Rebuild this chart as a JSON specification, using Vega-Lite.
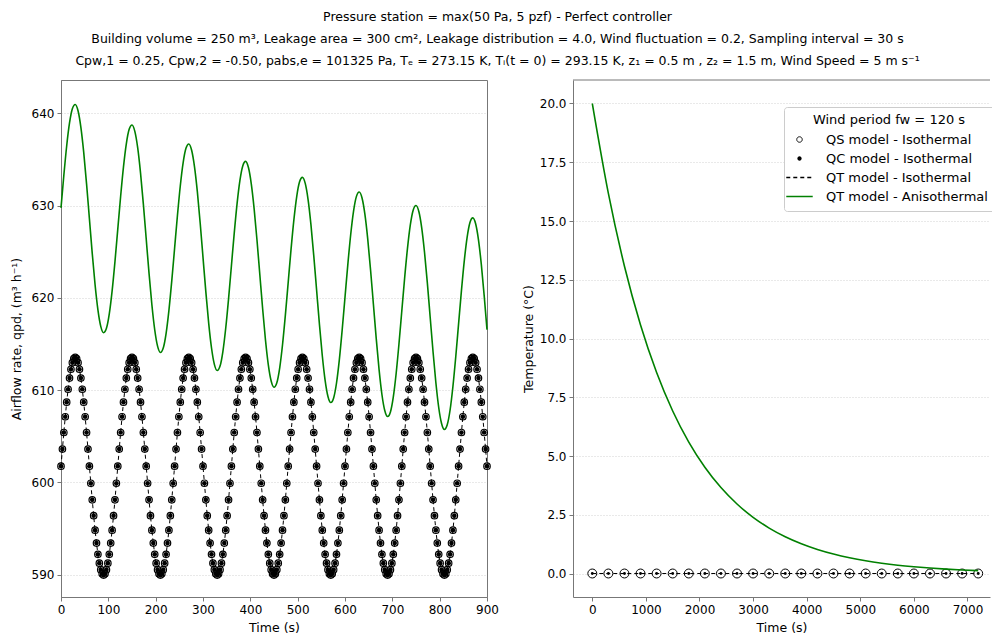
{
  "$schema": "https://vega.github.io/schema/vega-lite/v6.json",
  "padding": {"left": 9, "top": 11, "right": 0, "bottom": 0},
  "title": {
    "text": [
      "Pressure station = max(50 Pa, 5 pzf) - Perfect controller",
      "Building volume = 250 m³, Leakage area = 300 cm², Leakage distribution = 4.0, Wind fluctuation = 0.2, Sampling interval = 30 s",
      "Cpw,1 = 0.25, Cpw,2 = -0.50, pabs,e = 101325 Pa, Tₑ = 273.15 K, Tᵢ(t = 0) = 293.15 K, z₁ = 0.5 m , z₂ = 1.5 m, Wind Speed = 5 m s⁻¹"
    ],
    "anchor": "middle",
    "dx": -5,
    "font": "DejaVu Sans",
    "fontSize": 12.5,
    "fontWeight": "normal",
    "color": "#000000",
    "lineHeight": 22,
    "offset": 12
  },
  "bounds": "flush",
  "spacing": 86,
  "resolve": {"scale": {"x": "independent", "y": "independent", "color": "independent"}},
  "datasets": {
    "flow": [
      {"t":0,"q":601.75},{"t":3,"q":603.6},{"t":6,"q":605.4},{"t":9,"q":607.11},{"t":12,"q":608.69},{"t":15,"q":610.09},{"t":18,"q":611.3},{"t":21,"q":612.26},{"t":24,"q":612.97},{"t":27,"q":613.41},{"t":30,"q":613.55},{"t":33,"q":613.41},{"t":36,"q":612.97},{"t":39,"q":612.26},{"t":42,"q":611.3},{"t":45,"q":610.09},{"t":48,"q":608.69},{"t":51,"q":607.11},{"t":54,"q":605.4},{"t":57,"q":603.6},{"t":60,"q":601.75},{"t":63,"q":599.9},{"t":66,"q":598.1},{"t":69,"q":596.39},{"t":72,"q":594.81},{"t":75,"q":593.41},{"t":78,"q":592.2},{"t":81,"q":591.24},{"t":84,"q":590.53},{"t":87,"q":590.09},{"t":90,"q":589.95},{"t":93,"q":590.09},{"t":96,"q":590.53},{"t":99,"q":591.24},{"t":102,"q":592.2},{"t":105,"q":593.41},{"t":108,"q":594.81},{"t":111,"q":596.39},{"t":114,"q":598.1},{"t":117,"q":599.9},
      {"t":120,"q":601.75},{"t":123,"q":603.6},{"t":126,"q":605.4},{"t":129,"q":607.11},{"t":132,"q":608.69},{"t":135,"q":610.09},{"t":138,"q":611.3},{"t":141,"q":612.26},{"t":144,"q":612.97},{"t":147,"q":613.41},{"t":150,"q":613.55},{"t":153,"q":613.41},{"t":156,"q":612.97},{"t":159,"q":612.26},{"t":162,"q":611.3},{"t":165,"q":610.09},{"t":168,"q":608.69},{"t":171,"q":607.11},{"t":174,"q":605.4},{"t":177,"q":603.6},{"t":180,"q":601.75},{"t":183,"q":599.9},{"t":186,"q":598.1},{"t":189,"q":596.39},{"t":192,"q":594.81},{"t":195,"q":593.41},{"t":198,"q":592.2},{"t":201,"q":591.24},{"t":204,"q":590.53},{"t":207,"q":590.09},{"t":210,"q":589.95},{"t":213,"q":590.09},{"t":216,"q":590.53},{"t":219,"q":591.24},{"t":222,"q":592.2},{"t":225,"q":593.41},{"t":228,"q":594.81},{"t":231,"q":596.39},{"t":234,"q":598.1},{"t":237,"q":599.9},
      {"t":240,"q":601.75},{"t":243,"q":603.6},{"t":246,"q":605.4},{"t":249,"q":607.11},{"t":252,"q":608.69},{"t":255,"q":610.09},{"t":258,"q":611.3},{"t":261,"q":612.26},{"t":264,"q":612.97},{"t":267,"q":613.41},{"t":270,"q":613.55},{"t":273,"q":613.41},{"t":276,"q":612.97},{"t":279,"q":612.26},{"t":282,"q":611.3},{"t":285,"q":610.09},{"t":288,"q":608.69},{"t":291,"q":607.11},{"t":294,"q":605.4},{"t":297,"q":603.6},{"t":300,"q":601.75},{"t":303,"q":599.9},{"t":306,"q":598.1},{"t":309,"q":596.39},{"t":312,"q":594.81},{"t":315,"q":593.41},{"t":318,"q":592.2},{"t":321,"q":591.24},{"t":324,"q":590.53},{"t":327,"q":590.09},{"t":330,"q":589.95},{"t":333,"q":590.09},{"t":336,"q":590.53},{"t":339,"q":591.24},{"t":342,"q":592.2},{"t":345,"q":593.41},{"t":348,"q":594.81},{"t":351,"q":596.39},{"t":354,"q":598.1},{"t":357,"q":599.9},
      {"t":360,"q":601.75},{"t":363,"q":603.6},{"t":366,"q":605.4},{"t":369,"q":607.11},{"t":372,"q":608.69},{"t":375,"q":610.09},{"t":378,"q":611.3},{"t":381,"q":612.26},{"t":384,"q":612.97},{"t":387,"q":613.41},{"t":390,"q":613.55},{"t":393,"q":613.41},{"t":396,"q":612.97},{"t":399,"q":612.26},{"t":402,"q":611.3},{"t":405,"q":610.09},{"t":408,"q":608.69},{"t":411,"q":607.11},{"t":414,"q":605.4},{"t":417,"q":603.6},{"t":420,"q":601.75},{"t":423,"q":599.9},{"t":426,"q":598.1},{"t":429,"q":596.39},{"t":432,"q":594.81},{"t":435,"q":593.41},{"t":438,"q":592.2},{"t":441,"q":591.24},{"t":444,"q":590.53},{"t":447,"q":590.09},{"t":450,"q":589.95},{"t":453,"q":590.09},{"t":456,"q":590.53},{"t":459,"q":591.24},{"t":462,"q":592.2},{"t":465,"q":593.41},{"t":468,"q":594.81},{"t":471,"q":596.39},{"t":474,"q":598.1},{"t":477,"q":599.9},
      {"t":480,"q":601.75},{"t":483,"q":603.6},{"t":486,"q":605.4},{"t":489,"q":607.11},{"t":492,"q":608.69},{"t":495,"q":610.09},{"t":498,"q":611.3},{"t":501,"q":612.26},{"t":504,"q":612.97},{"t":507,"q":613.41},{"t":510,"q":613.55},{"t":513,"q":613.41},{"t":516,"q":612.97},{"t":519,"q":612.26},{"t":522,"q":611.3},{"t":525,"q":610.09},{"t":528,"q":608.69},{"t":531,"q":607.11},{"t":534,"q":605.4},{"t":537,"q":603.6},{"t":540,"q":601.75},{"t":543,"q":599.9},{"t":546,"q":598.1},{"t":549,"q":596.39},{"t":552,"q":594.81},{"t":555,"q":593.41},{"t":558,"q":592.2},{"t":561,"q":591.24},{"t":564,"q":590.53},{"t":567,"q":590.09},{"t":570,"q":589.95},{"t":573,"q":590.09},{"t":576,"q":590.53},{"t":579,"q":591.24},{"t":582,"q":592.2},{"t":585,"q":593.41},{"t":588,"q":594.81},{"t":591,"q":596.39},{"t":594,"q":598.1},{"t":597,"q":599.9},
      {"t":600,"q":601.75},{"t":603,"q":603.6},{"t":606,"q":605.4},{"t":609,"q":607.11},{"t":612,"q":608.69},{"t":615,"q":610.09},{"t":618,"q":611.3},{"t":621,"q":612.26},{"t":624,"q":612.97},{"t":627,"q":613.41},{"t":630,"q":613.55},{"t":633,"q":613.41},{"t":636,"q":612.97},{"t":639,"q":612.26},{"t":642,"q":611.3},{"t":645,"q":610.09},{"t":648,"q":608.69},{"t":651,"q":607.11},{"t":654,"q":605.4},{"t":657,"q":603.6},{"t":660,"q":601.75},{"t":663,"q":599.9},{"t":666,"q":598.1},{"t":669,"q":596.39},{"t":672,"q":594.81},{"t":675,"q":593.41},{"t":678,"q":592.2},{"t":681,"q":591.24},{"t":684,"q":590.53},{"t":687,"q":590.09},{"t":690,"q":589.95},{"t":693,"q":590.09},{"t":696,"q":590.53},{"t":699,"q":591.24},{"t":702,"q":592.2},{"t":705,"q":593.41},{"t":708,"q":594.81},{"t":711,"q":596.39},{"t":714,"q":598.1},{"t":717,"q":599.9},
      {"t":720,"q":601.75},{"t":723,"q":603.6},{"t":726,"q":605.4},{"t":729,"q":607.11},{"t":732,"q":608.69},{"t":735,"q":610.09},{"t":738,"q":611.3},{"t":741,"q":612.26},{"t":744,"q":612.97},{"t":747,"q":613.41},{"t":750,"q":613.55},{"t":753,"q":613.41},{"t":756,"q":612.97},{"t":759,"q":612.26},{"t":762,"q":611.3},{"t":765,"q":610.09},{"t":768,"q":608.69},{"t":771,"q":607.11},{"t":774,"q":605.4},{"t":777,"q":603.6},{"t":780,"q":601.75},{"t":783,"q":599.9},{"t":786,"q":598.1},{"t":789,"q":596.39},{"t":792,"q":594.81},{"t":795,"q":593.41},{"t":798,"q":592.2},{"t":801,"q":591.24},{"t":804,"q":590.53},{"t":807,"q":590.09},{"t":810,"q":589.95},{"t":813,"q":590.09},{"t":816,"q":590.53},{"t":819,"q":591.24},{"t":822,"q":592.2},{"t":825,"q":593.41},{"t":828,"q":594.81},{"t":831,"q":596.39},{"t":834,"q":598.1},{"t":837,"q":599.9},
      {"t":840,"q":601.75},{"t":843,"q":603.6},{"t":846,"q":605.4},{"t":849,"q":607.11},{"t":852,"q":608.69},{"t":855,"q":610.09},{"t":858,"q":611.3},{"t":861,"q":612.26},{"t":864,"q":612.97},{"t":867,"q":613.41},{"t":870,"q":613.55},{"t":873,"q":613.41},{"t":876,"q":612.97},{"t":879,"q":612.26},{"t":882,"q":611.3},{"t":885,"q":610.09},{"t":888,"q":608.69},{"t":891,"q":607.11},{"t":894,"q":605.4},{"t":897,"q":603.6},{"t":900,"q":601.75}
    ],
    "green": [
      {"t":0,"q":629.75},{"t":6,"q":633.28},{"t":12,"q":636.46},{"t":18,"q":638.95},{"t":24,"q":640.5},
      {"t":30,"q":640.96},{"t":36,"q":640.27},{"t":42,"q":638.48},{"t":48,"q":635.76},{"t":54,"q":632.35},
      {"t":60,"q":628.59},{"t":66,"q":624.82},{"t":72,"q":621.42},{"t":78,"q":618.7},{"t":84,"q":616.91},
      {"t":90,"q":616.22},{"t":96,"q":616.69},{"t":102,"q":618.25},{"t":108,"q":620.75},{"t":114,"q":623.93},
      {"t":120,"q":627.47},{"t":126,"q":631.01},{"t":132,"q":634.19},{"t":138,"q":636.69},{"t":144,"q":638.26},
      {"t":150,"q":638.73},{"t":156,"q":638.04},{"t":162,"q":636.27},{"t":168,"q":633.55},{"t":174,"q":630.16},
      {"t":180,"q":626.4},{"t":186,"q":622.65},{"t":192,"q":619.25},{"t":198,"q":616.54},{"t":204,"q":614.76},
      {"t":210,"q":614.08},{"t":216,"q":614.56},{"t":222,"q":616.13},{"t":228,"q":618.64},{"t":234,"q":621.83},
      {"t":240,"q":625.37},{"t":246,"q":628.92},{"t":252,"q":632.12},{"t":258,"q":634.63},{"t":264,"q":636.2},
      {"t":270,"q":636.68},{"t":276,"q":636.0},{"t":282,"q":634.23},{"t":288,"q":631.53},{"t":294,"q":628.14},
      {"t":300,"q":624.39},{"t":306,"q":620.65},{"t":312,"q":617.26},{"t":318,"q":614.56},{"t":324,"q":612.79},
      {"t":330,"q":612.12},{"t":336,"q":612.6},{"t":342,"q":614.18},{"t":348,"q":616.7},{"t":354,"q":619.89},
      {"t":360,"q":623.45},{"t":366,"q":627.01},{"t":372,"q":630.21},{"t":378,"q":632.73},{"t":384,"q":634.3},
      {"t":390,"q":634.79},{"t":396,"q":634.12},{"t":402,"q":632.36},{"t":408,"q":629.67},{"t":414,"q":626.29},
      {"t":420,"q":622.55},{"t":426,"q":618.81},{"t":432,"q":615.43},{"t":438,"q":612.73},{"t":444,"q":610.98},
      {"t":450,"q":610.31},{"t":456,"q":610.8},{"t":462,"q":612.39},{"t":468,"q":614.91},{"t":474,"q":618.12},
      {"t":480,"q":621.68},{"t":486,"q":625.25},{"t":492,"q":628.45},{"t":498,"q":630.98},{"t":504,"q":632.57},
      {"t":510,"q":633.06},{"t":516,"q":632.4},{"t":522,"q":630.65},{"t":528,"q":627.96},{"t":534,"q":624.58},
      {"t":540,"q":620.85},{"t":546,"q":617.12},{"t":552,"q":613.75},{"t":558,"q":611.06},{"t":564,"q":609.31},
      {"t":570,"q":608.65},{"t":576,"q":609.15},{"t":582,"q":610.74},{"t":588,"q":613.27},{"t":594,"q":616.49},
      {"t":600,"q":620.06},{"t":606,"q":623.63},{"t":612,"q":626.84},{"t":618,"q":629.38},{"t":624,"q":630.97},
      {"t":630,"q":631.47},{"t":636,"q":630.82},{"t":642,"q":629.07},{"t":648,"q":626.39},{"t":654,"q":623.02},
      {"t":660,"q":619.3},{"t":666,"q":615.57},{"t":672,"q":612.21},{"t":678,"q":609.52},{"t":684,"q":607.78},
      {"t":690,"q":607.13},{"t":696,"q":607.63},{"t":702,"q":609.23},{"t":708,"q":611.77},{"t":714,"q":614.99},
      {"t":720,"q":618.57},{"t":726,"q":622.15},{"t":732,"q":625.36},{"t":738,"q":627.9},{"t":744,"q":629.5},
      {"t":750,"q":630.01},{"t":756,"q":629.36},{"t":762,"q":627.62},{"t":768,"q":624.94},{"t":774,"q":621.59},
      {"t":780,"q":617.87},{"t":786,"q":614.15},{"t":792,"q":610.79},{"t":798,"q":608.11},{"t":804,"q":606.38},
      {"t":810,"q":605.73},{"t":816,"q":606.24},{"t":822,"q":607.84},{"t":828,"q":610.39},{"t":834,"q":613.61},
      {"t":840,"q":617.2},{"t":846,"q":620.78},{"t":852,"q":624.01},{"t":858,"q":626.55},{"t":864,"q":628.16},
      {"t":870,"q":628.67},{"t":876,"q":628.03},{"t":882,"q":626.29},{"t":888,"q":623.62},{"t":894,"q":620.27},
      {"t":900,"q":616.55}
    ],
    "temp": [
      {"t":0,"iso":0,"temp":20.0},{"t":300,"iso":0,"temp":16.172},{"t":600,"iso":0,"temp":13.077},{"t":900,"iso":0,"temp":10.574},{"t":1200,"iso":0,"temp":8.551},
      {"t":1500,"iso":0,"temp":6.914},{"t":1800,"iso":0,"temp":5.591},{"t":2100,"iso":0,"temp":4.521},{"t":2400,"iso":0,"temp":3.656},{"t":2700,"iso":0,"temp":2.956},
      {"t":3000,"iso":0,"temp":2.39},{"t":3300,"iso":0,"temp":1.933},{"t":3600,"iso":0,"temp":1.563},{"t":3900,"iso":0,"temp":1.264},{"t":4200,"iso":0,"temp":1.022},
      {"t":4500,"iso":0,"temp":0.827},{"t":4800,"iso":0,"temp":0.668},{"t":5100,"iso":0,"temp":0.54},{"t":5400,"iso":0,"temp":0.437},{"t":5700,"iso":0,"temp":0.353},
      {"t":6000,"iso":0,"temp":0.286},{"t":6300,"iso":0,"temp":0.231},{"t":6600,"iso":0,"temp":0.187},{"t":6900,"iso":0,"temp":0.151},{"t":7200,"iso":0,"temp":0.122}
    ]
  },
  "hconcat": [
    {
      "width": 426,
      "height": 517,
      "encoding": {
        "x": {"field": "t", "type": "quantitative", "scale": {"domain": [0, 900], "nice": false, "zero": false},
              "axis": {"title": "Time (s)", "values": [0,100,200,300,400,500,600,700,800,900], "format": "d", "grid": false}},
        "y": {"field": "q", "type": "quantitative", "scale": {"domain": [587.57, 643.61], "nice": false, "zero": false},
              "axis": {"title": "Airflow rate, qpd, (m³ h⁻¹)", "values": [590,600,610,620,630,640], "titlePadding": 8}}
      },
      "layer": [
        {"data": {"name": "flow"}, "mark": {"type": "point", "shape": "circle", "filled": false, "size": 42, "strokeWidth": 1.2, "color": "#000000", "opacity": 1}, "encoding": {}},
        {"data": {"name": "flow"}, "mark": {"type": "point", "shape": "circle", "filled": true, "size": 22, "color": "#000000", "opacity": 1}, "encoding": {}},
        {"data": {"name": "flow"}, "mark": {"type": "line", "color": "#000000", "strokeWidth": 1, "strokeDash": [4, 3]}, "encoding": {}},
        {"data": {"name": "green"}, "mark": {"type": "line", "color": "#008000", "strokeWidth": 1.6, "interpolate": "monotone"}, "encoding": {}}
      ]
    },
    {
      "width": 417,
      "height": 517,
      "view": {"stroke": null},
      "layer": [
        {
          "data": {"values": [{}]},
          "mark": {"type": "rule", "color": "#777777", "strokeWidth": 1},
          "encoding": {"y": {"datum": 21, "type": "quantitative", "scale": {"domain": [-1, 21], "nice": false, "zero": false},
                             "axis": {"title": "Temperature (°C)", "values": [0,2.5,5,7.5,10,12.5,15,17.5,20], "format": ".1f", "titlePadding": 4}}}
        },
        {
          "data": {"name": "temp"},
          "mark": {"type": "point", "shape": "circle", "filled": false, "size": 80, "strokeWidth": 1, "opacity": 1},
          "encoding": {
            "x": {"field": "t", "type": "quantitative", "scale": {"domain": [-360, 7420], "nice": false, "zero": false},
                  "axis": {"title": "Time (s)", "values": [0,1000,2000,3000,4000,5000,6000,7000], "format": "d", "grid": false}},
            "y": {"field": "iso", "type": "quantitative", "axis": {"title": "Temperature (°C)", "values": [0,2.5,5,7.5,10,12.5,15,17.5,20], "format": ".1f", "titlePadding": 4}},
            "color": {
              "datum": "QS model - Isothermal", "type": "nominal",
              "scale": {"domain": ["QS model - Isothermal", "QC model - Isothermal", "QT model - Isothermal", "QT model - Anisothermal"],
                        "range": ["#000000", "#000000", "#000000", "#008000"]},
              "legend": {
                "title": "Wind period fw = 120 s", "orient": "none", "legendX": 211, "legendY": 27, "titleAnchor": "middle",
                "titleFont": "DejaVu Sans", "titleFontSize": 13, "titleFontWeight": "normal", "titleColor": "#000000", "titlePadding": 6,
                "labelFont": "DejaVu Sans", "labelFontSize": 13, "labelColor": "#000000", "labelOffset": 20, "labelLimit": 0, "symbolOffset": 2,
                "symbolSize": 700, "rowPadding": 5, "padding": 7, "strokeColor": "#cccccc", "fillColor": "#ffffff", "cornerRadius": 3,
                "encode": {"symbols": {"update": {
                  "shape": {"signal": "datum.value == 'QT model - Isothermal' || datum.value == 'QT model - Anisothermal' ? 'stroke' : 'circle'"},
                  "size": {"signal": "datum.value == 'QS model - Isothermal' ? 30 : datum.value == 'QC model - Isothermal' ? 8 : 700"},
                  "fill": {"signal": "datum.value == 'QC model - Isothermal' ? '#000000' : 'transparent'"},
                  "fillOpacity": {"signal": "datum.value == 'QC model - Isothermal' ? 1 : 0"},
                  "stroke": {"signal": "datum.value == 'QT model - Anisothermal' ? '#008000' : '#000000'"},
                  "strokeDash": {"signal": "datum.value == 'QT model - Isothermal' ? [4, 3] : [1, 0]"},
                  "strokeWidth": {"signal": "datum.value == 'QS model - Isothermal' ? 1 : 1.5"},
                  "opacity": {"value": 1}
                }}}
              }
            }
          }
        },
        {
          "data": {"name": "temp"},
          "mark": {"type": "point", "shape": "circle", "filled": true, "size": 8, "opacity": 1},
          "encoding": {
            "x": {"field": "t", "type": "quantitative"},
            "y": {"field": "iso", "type": "quantitative"},
            "color": {"datum": "QC model - Isothermal", "type": "nominal",
              "legend": {
                "title": "Wind period fw = 120 s", "orient": "none", "legendX": 211, "legendY": 27, "titleAnchor": "middle",
                "titleFont": "DejaVu Sans", "titleFontSize": 13, "titleFontWeight": "normal", "titleColor": "#000000", "titlePadding": 6,
                "labelFont": "DejaVu Sans", "labelFontSize": 13, "labelColor": "#000000", "labelOffset": 20, "labelLimit": 0, "symbolOffset": 2,
                "symbolSize": 700, "rowPadding": 5, "padding": 7, "strokeColor": "#cccccc", "fillColor": "#ffffff", "cornerRadius": 3,
                "encode": {"symbols": {"update": {
                  "shape": {"signal": "datum.value == 'QT model - Isothermal' || datum.value == 'QT model - Anisothermal' ? 'stroke' : 'circle'"},
                  "size": {"signal": "datum.value == 'QS model - Isothermal' ? 30 : datum.value == 'QC model - Isothermal' ? 8 : 700"},
                  "fill": {"signal": "datum.value == 'QC model - Isothermal' ? '#000000' : 'transparent'"},
                  "fillOpacity": {"signal": "datum.value == 'QC model - Isothermal' ? 1 : 0"},
                  "stroke": {"signal": "datum.value == 'QT model - Anisothermal' ? '#008000' : '#000000'"},
                  "strokeDash": {"signal": "datum.value == 'QT model - Isothermal' ? [4, 3] : [1, 0]"},
                  "strokeWidth": {"signal": "datum.value == 'QS model - Isothermal' ? 1 : 1.5"},
                  "opacity": {"value": 1}
                }}}
              }}
          }
        },
        {
          "data": {"name": "temp"},
          "mark": {"type": "line", "strokeWidth": 1, "strokeDash": [4, 3]},
          "encoding": {
            "x": {"field": "t", "type": "quantitative"},
            "y": {"field": "iso", "type": "quantitative"},
            "color": {"datum": "QT model - Isothermal", "type": "nominal",
              "legend": {
                "title": "Wind period fw = 120 s", "orient": "none", "legendX": 211, "legendY": 27, "titleAnchor": "middle",
                "titleFont": "DejaVu Sans", "titleFontSize": 13, "titleFontWeight": "normal", "titleColor": "#000000", "titlePadding": 6,
                "labelFont": "DejaVu Sans", "labelFontSize": 13, "labelColor": "#000000", "labelOffset": 20, "labelLimit": 0, "symbolOffset": 2,
                "symbolSize": 700, "rowPadding": 5, "padding": 7, "strokeColor": "#cccccc", "fillColor": "#ffffff", "cornerRadius": 3,
                "encode": {"symbols": {"update": {
                  "shape": {"signal": "datum.value == 'QT model - Isothermal' || datum.value == 'QT model - Anisothermal' ? 'stroke' : 'circle'"},
                  "size": {"signal": "datum.value == 'QS model - Isothermal' ? 30 : datum.value == 'QC model - Isothermal' ? 8 : 700"},
                  "fill": {"signal": "datum.value == 'QC model - Isothermal' ? '#000000' : 'transparent'"},
                  "fillOpacity": {"signal": "datum.value == 'QC model - Isothermal' ? 1 : 0"},
                  "stroke": {"signal": "datum.value == 'QT model - Anisothermal' ? '#008000' : '#000000'"},
                  "strokeDash": {"signal": "datum.value == 'QT model - Isothermal' ? [4, 3] : [1, 0]"},
                  "strokeWidth": {"signal": "datum.value == 'QS model - Isothermal' ? 1 : 1.5"},
                  "opacity": {"value": 1}
                }}}
              }}
          }
        },
        {
          "data": {"name": "temp"},
          "mark": {"type": "line", "strokeWidth": 1.6, "interpolate": "monotone"},
          "encoding": {
            "x": {"field": "t", "type": "quantitative"},
            "y": {"field": "temp", "type": "quantitative"},
            "color": {"datum": "QT model - Anisothermal", "type": "nominal",
              "legend": {
                "title": "Wind period fw = 120 s", "orient": "none", "legendX": 211, "legendY": 27, "titleAnchor": "middle",
                "titleFont": "DejaVu Sans", "titleFontSize": 13, "titleFontWeight": "normal", "titleColor": "#000000", "titlePadding": 6,
                "labelFont": "DejaVu Sans", "labelFontSize": 13, "labelColor": "#000000", "labelOffset": 20, "labelLimit": 0, "symbolOffset": 2,
                "symbolSize": 700, "rowPadding": 5, "padding": 7, "strokeColor": "#cccccc", "fillColor": "#ffffff", "cornerRadius": 3,
                "encode": {"symbols": {"update": {
                  "shape": {"signal": "datum.value == 'QT model - Isothermal' || datum.value == 'QT model - Anisothermal' ? 'stroke' : 'circle'"},
                  "size": {"signal": "datum.value == 'QS model - Isothermal' ? 30 : datum.value == 'QC model - Isothermal' ? 8 : 700"},
                  "fill": {"signal": "datum.value == 'QC model - Isothermal' ? '#000000' : 'transparent'"},
                  "fillOpacity": {"signal": "datum.value == 'QC model - Isothermal' ? 1 : 0"},
                  "stroke": {"signal": "datum.value == 'QT model - Anisothermal' ? '#008000' : '#000000'"},
                  "strokeDash": {"signal": "datum.value == 'QT model - Isothermal' ? [4, 3] : [1, 0]"},
                  "strokeWidth": {"signal": "datum.value == 'QS model - Isothermal' ? 1 : 1.5"},
                  "opacity": {"value": 1}
                }}}
              }}
          }
        }
      ]
    }
  ],
  "config": {
    "font": "DejaVu Sans",
    "view": {"stroke": "#777777", "strokeWidth": 1},
    "axis": {
      "labelFont": "DejaVu Sans", "labelFontSize": 12, "labelColor": "#000000",
      "titleFont": "DejaVu Sans", "titleFontSize": 12.5, "titleFontWeight": "normal", "titleColor": "#000000",
      "tickColor": "#777777", "tickSize": 4, "domainColor": "#777777", "labelPadding": 3, "grid": false,
      "labelFlush": false, "labelOverlap": false
    },
    "axisX": {"titlePadding": 6},
    "axisY": {"grid": true, "gridColor": "#c8c8c8", "gridDash": [1, 2], "gridWidth": 0.8}
  }
}
